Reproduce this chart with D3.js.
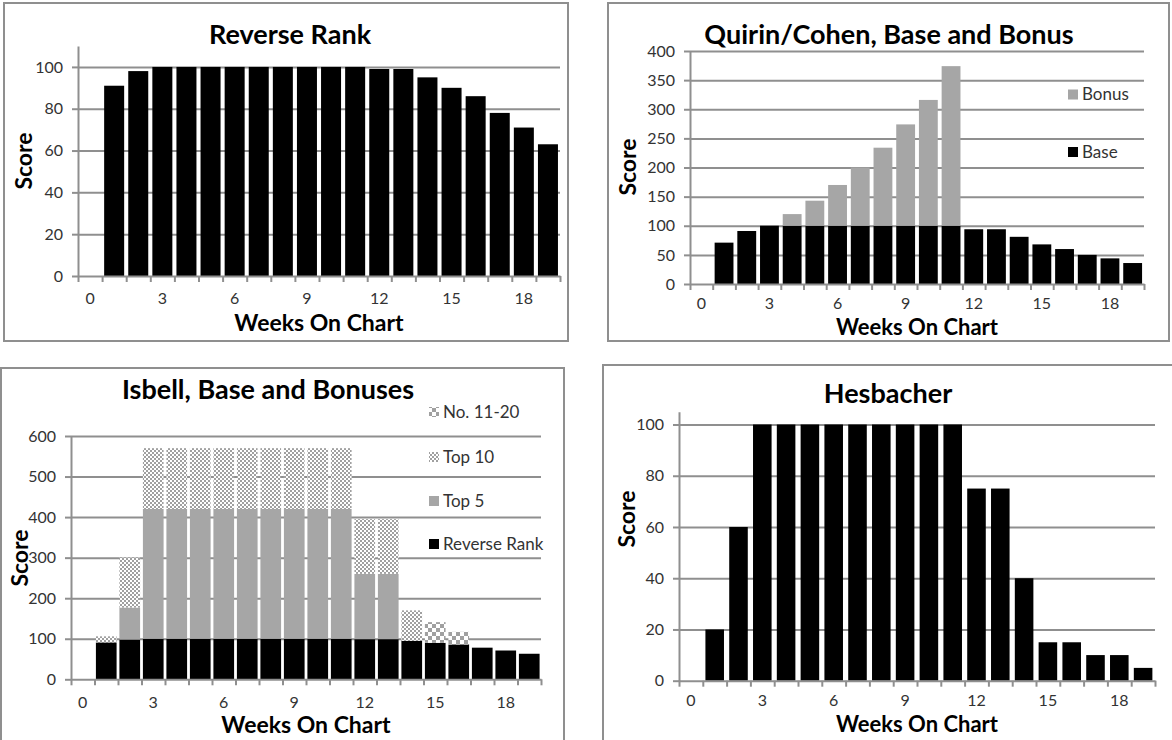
<!DOCTYPE html>
<html>
<head>
<meta charset="utf-8">
<script src="https://cdn.jsdelivr.net/npm/d3@7"></script>
<style>
  body { margin: 0; background: #fff; }
  svg { display: block; font-family: Lato, "Open Sans", sans-serif; }
</style>
</head>
<body>
<svg id="chart" width="1172" height="740"></svg>
<script>
// Category axis runs over weeks 0..19; scores exist for weeks 1..19.
const weeks = d3.range(0, 20);
const chartWeeks = d3.range(1, 20);
const weekTickLabels = [0, 3, 6, 9, 12, 15, 18];

// Reverse Rank score (also the base of the Isbell method)
const reverseRank = [91, 98, 100, 100, 100, 100, 100, 100, 100, 100, 100, 99, 99, 95, 90, 86, 78, 71, 63];

// Quirin/Cohen: base plus bonus
const quirinBase  = [71, 91, 100, 100, 100, 100, 100, 100, 100, 100, 100, 94, 94, 81, 68, 60, 50, 44, 36];
const quirinBonus = [0, 0, 0, 20, 43, 70, 100, 134, 174, 216, 274, 0, 0, 0, 0, 0, 0, 0, 0];

// Isbell: reverse rank plus bonuses
const isbellTop5   = [0, 79, 320, 320, 320, 320, 320, 320, 320, 320, 320, 161, 161, 0, 0, 0, 0, 0, 0];
const isbellTop10  = [15, 123, 150, 150, 150, 150, 150, 150, 150, 150, 150, 135, 135, 75, 0, 0, 0, 0, 0];
const isbellNo1120 = [0, 0, 0, 0, 0, 0, 0, 0, 0, 0, 0, 0, 0, 0, 51, 31, 0, 0, 0];

// Hesbacher score
const hesbacher = [20, 60, 100, 100, 100, 100, 100, 100, 100, 100, 100, 75, 75, 40, 15, 15, 10, 10, 5];

// Score axis ticks
const ticks100 = [0, 20, 40, 60, 80, 100];
const ticks400 = [0, 50, 100, 150, 200, 250, 300, 350, 400];
const ticks600 = [0, 100, 200, 300, 400, 500, 600];

const GRID = "#8f8f8f";
const GRAY = "#a6a6a6";
const TEXT = "#333";

const svg = d3.select("#chart");
const defs = svg.append("defs");

function checker(id, cell, color) {
  const p = defs.append("pattern").attr("id", id)
    .attr("patternUnits", "userSpaceOnUse")
    .attr("width", cell * 2).attr("height", cell * 2);
  p.append("rect").attr("width", cell * 2).attr("height", cell * 2).attr("fill", "#fff");
  p.append("rect").attr("width", cell).attr("height", cell).attr("fill", color);
  p.append("rect").attr("x", cell).attr("y", cell).attr("width", cell).attr("height", cell).attr("fill", color);
}
checker("fineChecker", 2, "#a0a0a0");
checker("coarseChecker", 4, "#a0a0a0");

const panels = [
  {
    box: [4, 3, 564, 338],
    plot: { l: 78, r: 560, t: 46, b: 276 },
    yMax: 110, yTicks: ticks100, pad: 0.17, xPad: 17,
    title: "Reverse Rank", titleXY: [290, 44],
    xTitleXY: [319, 331], xTitleSize: 23, yTitleXY: [32, 161],
    series: [{ key: "rr", values: reverseRank, fill: "#000" }],
    legend: []
  },
  {
    box: [608, 3, 561, 338],
    plot: { l: 690, r: 1144, t: 51, b: 284 },
    yMax: 400, yTicks: ticks400, pad: 0.17, xPad: 14,
    title: "Quirin/Cohen, Base and Bonus", titleXY: [889, 44],
    xTitleXY: [917, 335], xTitleSize: 22, yTitleXY: [636, 167],
    series: [
      { key: "base", values: quirinBase, fill: "#000", label: "Base" },
      { key: "bonus", values: quirinBonus, fill: GRAY, label: "Bonus" }
    ],
    legend: [
      { key: "bonus", y: 94.5 },
      { key: "base", y: 152 }
    ],
    legendX: 1068
  },
  {
    box: [1, 368, 563, 400],
    plot: { l: 71, r: 541, t: 436, b: 679.3 },
    yMax: 600, yTicks: ticks600, pad: 0.12, xPad: 17,
    title: "Isbell, Base and Bonuses", titleXY: [268, 399],
    xTitleXY: [306, 733], xTitleSize: 23, yTitleXY: [28, 558],
    series: [
      { key: "rr", values: reverseRank, fill: "#000", label: "Reverse Rank" },
      { key: "top5", values: isbellTop5, fill: GRAY, label: "Top 5" },
      { key: "top10", values: isbellTop10, fill: "url(#fineChecker)", label: "Top 10" },
      { key: "no1120", values: isbellNo1120, fill: "url(#coarseChecker)", label: "No. 11-20" }
    ],
    legend: [
      { key: "no1120", y: 412 },
      { key: "top10", y: 457 },
      { key: "top5", y: 501 },
      { key: "rr", y: 544 }
    ],
    legendX: 429
  },
  {
    box: [603, 365, 600, 400],
    plot: { l: 679, r: 1155, t: 411.7, b: 680.7 },
    yMax: 105, yTicks: ticks100, pad: 0.22, xPad: 14,
    title: "Hesbacher", titleXY: [888, 403],
    xTitleXY: [917, 732], xTitleSize: 22, yTitleXY: [635, 519],
    series: [{ key: "hes", values: hesbacher, fill: "#000" }],
    legend: []
  }
];

function drawPanel(cfg) {
  const g = svg.append("g");
  const { l, r, t, b } = cfg.plot;

  g.append("rect")
    .attr("x", cfg.box[0]).attr("y", cfg.box[1])
    .attr("width", cfg.box[2]).attr("height", cfg.box[3])
    .attr("fill", "#fff").attr("stroke", GRID).attr("stroke-width", 2);

  const x = d3.scaleBand().domain(weeks).range([l, r])
    .paddingInner(cfg.pad).paddingOuter(cfg.pad / 2);
  const xEdge = d3.scaleLinear().domain([0, weeks.length]).range([l, r]);
  const y = d3.scaleLinear().domain([0, cfg.yMax]).range([b, t]);

  // horizontal gridlines
  g.append("g").attr("transform", `translate(${l},0)`)
    .call(d3.axisLeft(y).tickValues(cfg.yTicks.filter(v => v > 0))
      .tickSize(-(r - l)).tickFormat(""))
    .call(s => s.select(".domain").remove())
    .call(s => s.selectAll("line").attr("stroke", GRID).attr("stroke-width", 2));

  // stacked bars
  const rows = chartWeeks.map((w, i) => {
    const o = { week: w };
    cfg.series.forEach(s => { o[s.key] = s.values[i]; });
    return o;
  });
  const layers = d3.stack().keys(cfg.series.map(s => s.key))(rows);
  layers.forEach((layer, li) => {
    g.append("g").attr("fill", cfg.series[li].fill)
      .selectAll("rect")
      .data(layer.filter(d => d[1] > d[0]))
      .join("rect")
      .attr("x", d => x(d.data.week))
      .attr("width", x.bandwidth())
      .attr("y", d => y(d[1]))
      .attr("height", d => y(d[0]) - y(d[1]));
  });

  // value axis
  g.append("g").attr("transform", `translate(${l},0)`)
    .call(d3.axisLeft(y).tickValues(cfg.yTicks).tickSize(6).tickSizeOuter(0).tickPadding(9))
    .call(s => s.select(".domain").attr("stroke", GRID).attr("stroke-width", 2))
    .call(s => s.selectAll(".tick line").attr("stroke", GRID).attr("stroke-width", 2))
    .call(s => s.selectAll("text").attr("fill", TEXT).style("font-size", "16px").style("font-family", "Lato, sans-serif"));

  // category axis: ticks between categories
  g.append("g").attr("transform", `translate(0,${b})`)
    .call(d3.axisBottom(xEdge).tickValues(d3.range(0, weeks.length + 1))
      .tickSize(6).tickSizeOuter(0).tickFormat(""))
    .call(s => s.select(".domain").attr("stroke", GRID).attr("stroke-width", 2))
    .call(s => s.selectAll(".tick line").attr("stroke", GRID).attr("stroke-width", 2));

  // category labels every third week
  g.append("g").attr("transform", `translate(0,${b})`)
    .call(d3.axisBottom(x).tickValues(weekTickLabels).tickSize(0).tickPadding(cfg.xPad))
    .call(s => s.select(".domain").remove())
    .call(s => s.selectAll("text").attr("fill", TEXT).style("font-size", "16px").style("font-family", "Lato, sans-serif"));

  // titles
  g.append("text").attr("x", cfg.titleXY[0]).attr("y", cfg.titleXY[1])
    .attr("text-anchor", "middle").attr("font-weight", 700)
    .attr("font-size", 27).attr("fill", "#000").text(cfg.title);
  g.append("text").attr("x", cfg.xTitleXY[0]).attr("y", cfg.xTitleXY[1])
    .attr("text-anchor", "middle").attr("font-weight", 700)
    .attr("font-size", cfg.xTitleSize).attr("fill", "#000").text("Weeks On Chart");
  g.append("text")
    .attr("transform", `translate(${cfg.yTitleXY[0]},${cfg.yTitleXY[1]}) rotate(-90)`)
    .attr("text-anchor", "middle").attr("font-weight", 700)
    .attr("font-size", 23).attr("fill", "#000").text("Score");

  // legend
  cfg.legend.forEach(item => {
    const s = cfg.series.find(d => d.key === item.key);
    g.append("rect").attr("x", cfg.legendX).attr("y", item.y - 5)
      .attr("width", 10).attr("height", 10).attr("fill", s.fill);
    g.append("text").attr("x", cfg.legendX + 14).attr("y", item.y)
      .attr("dy", "0.35em").attr("font-size", 17).attr("fill", TEXT).text(s.label);
  });
}

panels.forEach(drawPanel);
</script>
</body>
</html>
